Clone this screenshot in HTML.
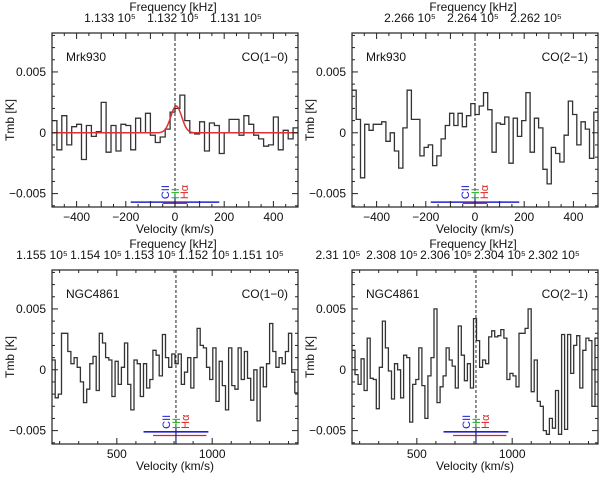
<!DOCTYPE html>
<html><head><meta charset="utf-8"><style>
body{margin:0;background:#fff;width:600px;height:474px;overflow:hidden}
svg text{font-family:"Liberation Sans",sans-serif;font-size:12px;fill:#111}
</style></head><body>
<svg id="s" width="600" height="474"></svg>
<script>
const tlVals=[1,-1.4,1.4,-1,0.5,0.7,-2.2,0.6,-0.3,0.1,2.5,-1.6,0.6,-1.5,0.7,0.6,-1.4,1.2,0,1.6,-0.2,-0.8,-0.35,0.3,1.7,2.0,3.1,1,0,-0.1,0.9,-1.5,0.8,0.6,-1.7,0,1.1,1.1,-0.2,1.4,0.7,-0.2,-0.5,-1.1,-1,1.3,-1.4,0.2,-0.5,0.4];
const trVals=[3.5,1.1,-3.7,0.7,0.2,0.7,0.7,0.9,-0.7,0,-1.5,-2.9,0.4,3.5,1.1,1.1,-1.9,-1.2,-1.0,-2.7,-1.9,-0.5,0.6,1.6,0.6,1.6,0.5,1.4,2.4,1.5,2.2,3.3,1.9,-1.6,0.8,0.7,1.3,-2.5,1.2,-0.3,1.0,3.3,-1.6,1.2,0.4,-3.0,-4.2,-1.2,-1.7,-2.4,-0.2,2.6,1.5,-1.0,0.9,0.3,-2.1,1.7];
const blVals=[0.8,-2.3,-2,3,3,1.5,0.5,1,0.2,-1,-2.7,-1.6,0.5,1.1,-1.7,3,2.2,1,0.8,-2.2,0.7,-1.2,0.2,2.2,-1.2,-3.3,0.8,0.5,-2.2,0.5,-1.5,-0.8,1.6,1.2,-0.5,2.9,1,0.2,1.3,0.5,1.3,-1.2,-0.2,1,-1.5,1,3.4,2,1.8,0.2,-0.8,1.8,-2.6,0.7,-1.3,-3.3,1.8,-1.3,-1.6,1.8,-0.8,1.5,-0.7,-2.5,0,-4.2,0.2,-1.4,0.5,3.8,1.5,0.2,1,0.5,1.5,3,-0.2,-1.9];
const brVals=[1.6,-0.4,-1.2,0.9,-1.7,2.6,-0.7,-0.8,-3.2,0.2,4,1.8,-0.1,-2.4,0.5,0,-2.3,1.2,1,-4.3,-1.2,-0.8,1.8,-1.3,-4,-0.5,1,5,-2.7,-1.4,-0.5,1.8,0.8,0.3,-1.5,3.6,1.2,-0.9,0.5,-1.5,4.2,2.4,0.2,0.8,0.5,2.7,3.2,2.7,2.8,3.3,2.6,-0.8,-0.3,-0.5,-1.4,3,3,3.4,5,-1.8,0.8,-2.6,-3,-5,-5.3,-4,-4.8,-1.7,-5.3,2.9,-4.9,2.9,-0.3,2,2.8,-1.5,1.6,2.6,2.4,-3,2.6];
const topXTicks=[-400,-200,0,200,400];
const botXTicks=[500,1000];
const yTicks=[-0.005,0,0.005];
const yTickLabels=["-0.005","0","0.005"];
const freqTL=["1.133  10\u2075","1.132  10\u2075","1.131  10\u2075"];
const freqTR=["2.266  10\u2075","2.264  10\u2075","2.262  10\u2075"];
const freqBL=["1.155  10\u2075","1.154  10\u2075","1.153  10\u2075","1.152  10\u2075","1.151  10\u2075"];
const freqBR=["2.31  10\u2075","2.308  10\u2075","2.306  10\u2075","2.304  10\u2075","2.302  10\u2075"];
const NS="http://www.w3.org/2000/svg";
const svg=document.getElementById('s');
function mk(t,a,p){const e=document.createElementNS(NS,t);for(const k in a)e.setAttribute(k,a[k]);(p||svg).appendChild(e);return e;}
function panel(o){
  const g=mk('g',{});
  
  
  const L=o.x0,R=o.x0+246,T=o.y0,B=o.y0+174;
  const xs=v=>L+(v-o.xmin)/(o.xmax-o.xmin)*(R-L);
  const ys=v=>T+(0.0082-v)/(0.0082+0.0061)*(B-T);
  const n=o.vals.length,w=(o.xmax-o.xmin)/n;let d='';
  o.vals.forEach((v,i)=>{const y=ys(v/1000);d+=(i?'L':'M')+xs(o.xmin+i*w).toFixed(1)+','+y.toFixed(1)+'L'+xs(o.xmin+(i+1)*w).toFixed(1)+','+y.toFixed(1);});
  const h=mk('path',{d:d,fill:'none',stroke:'#333','stroke-width':1.3},g);
  
  
  if(o.fit){let fd='';for(let v=o.xmin;v<=o.xmax;v+=4){const y=ys(0.0022*Math.exp(-Math.pow(v-5,2)/(2*22*22)));fd+=(v==o.xmin?'M':'L')+xs(v).toFixed(1)+','+y.toFixed(1);}
    const f=mk('path',{d:fd,fill:'none',stroke:'#e03030','stroke-width':1.5},g);
    
    }
  mk('line',{x1:xs(o.vc),x2:xs(o.vc),y1:T,y2:B,stroke:'#222','stroke-dasharray':'3,2'},g);
  mk('line',{x1:xs(o.vc+o.blue[0]),x2:xs(o.vc+o.blue[1]),y1:ys(o.by),y2:ys(o.by),stroke:'#2020d0','stroke-width':1.6},g);
  mk('line',{x1:xs(o.vc+o.red[0]),x2:xs(o.vc+o.red[1]),y1:ys(o.ry),y2:ys(o.ry),stroke:'#e02020','stroke-width':1.3},g);
  mk('line',{x1:xs(o.vc),x2:xs(o.vc),y1:ys(o.by)-8,y2:B,stroke:'#202080','stroke-width':1.2},g);
  const lab=[['CII','#2020d0',-14],['HI','#20b020',-4],['Hα','#e02020',5]];
  lab.forEach(l=>{const t=mk('text',{x:0,y:0,fill:l[1],'font-size':'10','transform':`translate(${xs(o.vc)+l[2]+8},${ys(o.by)-3}) rotate(-90)`},g);t.style.fill=l[1];t.style.fontSize='11px';t.textContent=l[0];
    
    });
  mk('rect',{x:L,y:T,width:R-L,height:B-T,fill:'none',stroke:'#222','stroke-width':1.2},g);
  for(let v=Math.ceil(o.xmin/o.minor)*o.minor;v<=o.xmax;v+=o.minor){const x=xs(v);const maj=(v%o.major===0);const l=maj?6:3;
    mk('line',{x1:x,x2:x,y1:B,y2:B-l,stroke:'#222'},g);mk('line',{x1:x,x2:x,y1:T,y2:T+l,stroke:'#222'},g);}
  o.xt.forEach(v=>{const t=mk('text',{x:xs(v),y:B+14,'text-anchor':'middle'},g);t.textContent=String(v).replace('-','\u2212');});
  for(let v=-0.006;v<=0.008;v+=0.001){const y=ys(v);const maj=Math.abs(Math.round(v*1000))%5===0;const l=maj?6:3;
    mk('line',{x1:L,x2:L+l,y1:y,y2:y,stroke:'#222'},g);mk('line',{x1:R,x2:R-l,y1:y,y2:y,stroke:'#222'},g);}
  yTicks.forEach((v,i)=>{const t=mk('text',{x:L-6,y:ys(v)+4,'text-anchor':'end'},g);t.textContent=yTickLabels[i].replace('-','\u2212');});
  const xl=mk('text',{x:(L+R)/2,y:B+26,'text-anchor':'middle'},g);xl.textContent='Velocity (km/s)';
  const yl=mk('text',{x:0,y:0,'text-anchor':'middle',transform:`translate(${L-38},${(T+B)/2}) rotate(-90)`},g);yl.textContent='Tmb [K]';
  const ft=mk('text',{x:(L+R)/2-2,y:T-22,'text-anchor':'middle'},g);ft.textContent='Frequency [kHz]';
  o.freq.forEach((s,i)=>{const t=mk('text',{x:L+o.fx0+i*o.fdx,y:T-11,'text-anchor':'middle'},g);t.textContent=s;});
  const a=mk('text',{x:L+14,y:T+28},g);a.textContent=o.src;
  const b=mk('text',{x:R-10,y:T+28,'text-anchor':'end'},g);b.textContent=o.line;
}
panel({name:'panel-mrk930-co10',x0:52,y0:33,xmin:-500,xmax:500,vals:tlVals,fit:true,vc:0,minor:50,major:100,xt:topXTicks,blue:[-180,180],red:[-50,50],by:-0.0057,ry:-0.0058,freq:freqTL,fx0:58,fdx:63,src:'Mrk930',line:'CO(1\u22120)'});
panel({name:'panel-mrk930-co21',x0:352,y0:33,xmin:-500,xmax:500,vals:trVals,fit:false,vc:0,minor:50,major:100,xt:topXTicks,blue:[-180,180],red:[-50,50],by:-0.0057,ry:-0.0058,freq:freqTR,fx0:58,fdx:63,src:'Mrk930',line:'CO(2\u22121)'});
panel({name:'panel-ngc4861-co10',x0:52,y0:270,xmin:160,xmax:1450,vals:blVals,fit:false,vc:810,minor:100,major:500,xt:botXTicks,blue:[-170,170],red:[-120,160],by:-0.0051,ry:-0.0054,freq:freqBL,fx0:-10,fdx:54,src:'NGC4861',line:'CO(1\u22120)'});
panel({name:'panel-ngc4861-co21',x0:352,y0:270,xmin:160,xmax:1450,vals:brVals,fit:false,vc:810,minor:100,major:500,xt:botXTicks,blue:[-170,170],red:[-120,160],by:-0.0051,ry:-0.0054,freq:freqBR,fx0:-14,fdx:54,src:'NGC4861',line:'CO(2\u22121)'});
</script>
</body></html>
